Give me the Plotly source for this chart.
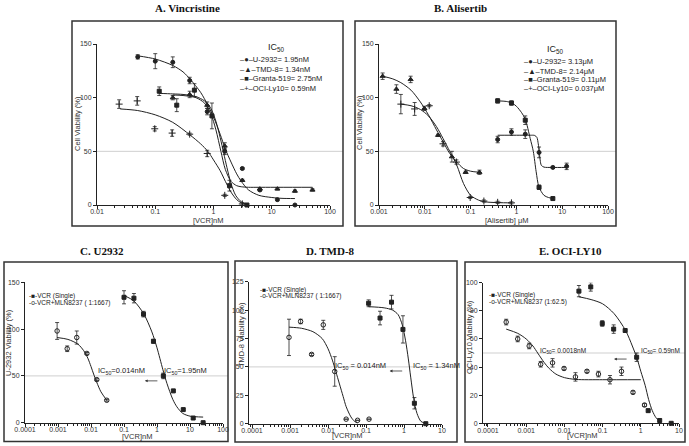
import math
import plotly.graph_objects as go

W, H = 689, 446
INK = "#222222"
TXT = "#333333"
FONT = "Liberation Sans, Arial, DejaVu Sans, sans-serif"

# ---------------- DATA ----------------
# Panel A (Vincristine)
a_u_x = [0.05, 0.1, 0.2, 0.39, 0.78, 1.56, 3.125, 6.25, 12.5, 25]
a_u_y = [138, 134, 133, 116, 87, 50, 34, 14, 5, 0]
a_u_e = [2, 7, 5, 3, 3, 3, 1, 1, 1, 0]
a_t_x = [0.2, 0.39, 0.78, 1.56, 3.125, 6.25, 12.5, 25, 50]
a_t_y = [100, 103, 93, 55, 23, 15, 15, 13, 14]
a_t_e = [2, 3, 3, 3, 1, 1, 1, 1, 1]
a_g_x = [0.117, 0.234, 0.47, 0.94, 1.88, 3.75]
a_g_y = [106, 93, 107, 83, 18, 0]
a_g_e = [4, 6, 6, 12, 5, 0]
a_o_x = [0.024, 0.049, 0.098, 0.195, 0.39, 0.78, 1.56, 3.125]
a_o_y = [94, 97, 71, 67, 66, 48, 9, 1]
a_o_e = [4, 4, 2, 3, 1, 3, 1, 1]
a_u_fx = [0.05, 0.1, 0.2, 0.3, 0.4, 0.6, 0.8, 1.0, 1.3, 1.6, 2.0, 2.5, 3.0, 4.0, 6.0, 10, 15, 25]
a_u_fy = [139, 136, 130, 124, 117, 105, 93, 82, 66, 52, 40, 29, 22, 14, 9, 7, 6.2, 6]
a_t_fx = [0.2, 0.3, 0.5, 0.7, 0.9, 1.1, 1.34, 1.6, 2.0, 2.5, 3.0, 4.0, 6, 50]
a_t_fy = [102.5, 102, 100, 95, 85, 70, 50, 33, 22, 18, 17, 16.5, 16.5, 16.5]
a_g_fx = [0.117, 0.2, 0.3, 0.5, 0.7, 0.9, 1.1, 1.3, 1.5, 1.7, 2.0, 2.4, 3.0, 3.75]
a_g_fy = [104, 103.5, 103, 101, 97, 90, 78, 63, 48, 35, 20, 9, 3, 1]
a_o_fx = [0.025, 0.05, 0.1, 0.2, 0.4, 0.6, 0.8, 1.0, 1.3, 1.6, 2.0, 2.5, 3.0, 3.7]
a_o_fy = [89.5, 88, 84, 77, 65, 57, 50, 42, 32, 22, 12, 5, 2, 0.5]
a_legend = ["U-2932= 1.95nM", "TMD-8= 1.34nM", "Granta-519= 2.75nM", "OCI-Ly10= 0.59nM"]

# Panel B (Alisertib)
b_u_x = [0.39, 0.78, 1.56, 3.125, 6.25, 12.5]
b_u_y = [61, 68, 66, 49, 35, 36]
b_u_e = [3, 3, 4, 5, 1, 3]
b_t_x = [0.39, 0.78, 1.56, 3.125, 6.25]
b_t_y = [97, 95, 79, 16.5, 6]
b_t_e = [2, 2, 4, 2, 1]
b_g_x = [0.0012, 0.0024, 0.0049, 0.0098, 0.0195, 0.039, 0.078, 0.156]
b_g_y = [120, 108, 117, 90, 65, 45, 30.5, 30.5]
b_g_e = [3, 4, 3, 2, 1, 5, 1, 2]
b_o_x = [0.003, 0.006, 0.0125, 0.025, 0.049, 0.098, 0.195, 0.39, 0.78]
b_o_y = [94, 89.5, 92.5, 57, 40, 7, 3.7, 2.5, 2]
b_o_e = [9, 6, 1, 2, 2, 1, 1, 1, 1]
b_u_fx = [0.39, 1.0, 2.0, 2.5, 2.8, 3.0, 3.15, 3.3, 3.5, 4.0, 6.0, 12.5]
b_u_fy = [65, 65, 65, 64.8, 63, 57, 50, 42, 37, 35.3, 35, 35]
b_t_fx = [0.39, 0.6, 0.8, 1.0, 1.3, 1.56, 2.0, 2.34, 2.7, 3.1, 4.0, 5.0, 6.25]
b_t_fy = [97, 96.5, 95, 92, 86, 80, 62, 50, 31, 17, 9, 7, 6]
b_g_fx = [0.0012, 0.002, 0.003, 0.005, 0.008, 0.012, 0.018, 0.025, 0.035, 0.05, 0.07, 0.1, 0.156]
b_g_fy = [120, 117.5, 114, 107, 96, 84, 70, 59, 48, 40, 34, 31.5, 30.5]
b_o_fx = [0.003, 0.005, 0.008, 0.012, 0.018, 0.025, 0.035, 0.05, 0.07, 0.1, 0.15, 0.2, 0.4, 0.8]
b_o_fy = [94, 92.5, 89, 83, 73, 62, 50, 37, 20, 9, 4.5, 3, 2.2, 2]
b_legend = ["U-2932= 3.13\u03bcM", "TMD-8= 2.14\u03bcM", "Granta-519= 0.11\u03bcM", "OCI-Ly10= 0.037\u03bcM"]

# Panel C (U2932)
c_s_x = [0.1, 0.2, 0.39, 0.78, 1.56, 3.125, 6.25, 12.5, 25]
c_s_y = [134, 133, 116, 87, 50, 34, 14, 5, 0]
c_s_e = [7, 5, 3, 2, 3, 1, 1, 1, 0]
c_c_x = [0.00094, 0.0019, 0.0037, 0.0075, 0.015, 0.03]
c_c_y = [98, 79, 91, 74, 46, 24]
c_c_e = [9, 3, 7, 1, 1, 1]
c_s_fx = [0.1, 0.2, 0.4, 0.7, 1.0, 1.5, 2.0, 3.0, 4.0, 6.0, 10, 25]
c_s_fy = [136, 130, 116, 97, 80, 57, 42, 25, 17, 10, 7, 6]
c_c_fx = [0.00094, 0.002, 0.004, 0.006, 0.008, 0.01, 0.012, 0.015, 0.02, 0.03]
c_c_fy = [91, 89, 84, 77, 69, 60, 52, 43, 33, 24]

# Panel D (TMD-8)
d_s_x = [0.117, 0.234, 0.469, 0.938, 1.875, 3.75]
d_s_y = [106, 93, 107, 83, 18, 0]
d_s_e = [3, 6, 6, 12, 5, 0]
d_c_x = [0.00094, 0.0019, 0.0037, 0.0075, 0.015, 0.03, 0.06, 0.12]
d_c_y = [76, 90, 61, 87, 46, 4, 3, 4]
d_c_e = [16, 2, 1, 4, 13, 0, 0, 0]
d_s_fx = [0.117, 0.3, 0.5, 0.7, 0.9, 1.1, 1.3, 1.5, 1.8, 2.2, 2.8, 3.75]
d_s_fy = [103, 102, 100, 96, 87, 73, 57, 41, 22, 9, 2, 0.3]
d_c_fx = [0.00094, 0.002, 0.004, 0.007, 0.01, 0.013, 0.016, 0.02, 0.025, 0.03, 0.04, 0.05, 0.06]
d_c_fy = [85, 84, 81, 75, 66, 56, 46, 35, 24, 15, 6, 2, 0.5]

# Panel E (OCI-LY10)
e_s_x = [0.024, 0.049, 0.098, 0.195, 0.39, 0.78, 1.56, 3.125, 6.25]
e_s_y = [94, 97, 71, 67, 66, 47, 9, 2, 0]
e_s_e = [4, 3, 2, 3, 1, 3, 1, 1, 0]
e_c_x = [0.0003, 0.0006, 0.0012, 0.0024, 0.0049, 0.0098, 0.0195, 0.039, 0.078, 0.156, 0.3125, 0.625, 1.25]
e_c_y = [72, 60, 55, 42, 43, 39, 33, 37, 35, 31, 37, 22, 13]
e_c_e = [2, 2, 2, 2, 3, 1, 3, 1, 2, 3, 3, 1, 1]
e_s_fx = [0.024, 0.05, 0.1, 0.2, 0.4, 0.6, 0.8, 1.0, 1.3, 1.6, 2.0, 2.5, 3.125]
e_s_fy = [90, 88, 85, 78, 66, 55, 46, 37, 27, 17, 9, 4, 1.5]
e_c_fx = [0.0003, 0.0006, 0.001, 0.0015, 0.002, 0.003, 0.004, 0.006, 0.01, 0.02, 0.1, 1.0]
e_c_fy = [67, 64, 60, 55, 50, 43, 39, 35, 32.5, 31.2, 31, 31]

combo_legend_c = ["VCR (Single)", "VCR+MLN8237 ( 1:1667)"]
combo_legend_e = ["VCR (Single)", "VCR+MLN8237 (1:62.5)"]

# tick labels
x_ticks_a = [0.01, 0.1, 1, 10, 100]
x_ticks_b = [0.001, 0.01, 0.1, 1, 10, 100]
x_ticks_c = [0.0001, 0.001, 0.01, 0.1, 1, 10, 100]
x_ticks_de = [0.0001, 0.001, 0.01, 0.1, 1, 10]
y_ticks_abc = [0, 50, 100, 150]
y_ticks_d = [0, 25, 50, 75, 100, 125]
y_ticks_e = [0, 20, 40, 60, 80, 100]


def lab(v):
    return ("%g" % v) if v >= 0.001 else "0.0001"


fig = go.Figure()


def px_x(p):
    return p / W


def px_y(p):
    return 1 - p / H


# axis geometry in pixels; titles placed at pixel spots
panels = {
    "": dict(xd=(97, 330), xr=(-2, 2), yd=(44, 205), yr=(0, 150), xt=x_ticks_a, yt=y_ticks_abc,
             xtitle="[VCR]nM", ytitle="Cell Viability (%)", xtp=(208, 220), ytp=(77, 124)),
    "2": dict(xd=(379, 608), xr=(-3, 2), yd=(44, 205), yr=(0, 150), xt=x_ticks_b, yt=y_ticks_abc,
              xtitle="[Alisertib] \u03bcM", ytitle="Cell Viability (%)", xtp=(507, 220), ytp=(359, 123)),
    "3": dict(xd=(25, 223), xr=(-4, 2), yd=(282.3, 422.7), yr=(0, 150), xt=x_ticks_c, yt=y_ticks_abc,
              xtitle="[VCR]nM", ytitle="U-2932 Viability (%)", xtp=(137, 436), ytp=(8, 343)),
    "4": dict(xd=(249, 442), xr=(-4.08, 1), yd=(281.7, 423.7), yr=(0, 125), xt=x_ticks_de, yt=y_ticks_d,
              xtitle="[VCR]nM", ytitle="TMD-8 Viability (%)", xtp=(347, 435.5), ytp=(241, 335)),
    "5": dict(xd=(483, 679), xr=(-4.13, 1), yd=(282.7, 423.3), yr=(0, 100), xt=x_ticks_de, yt=y_ticks_e,
              xtitle="[VCR]nM", ytitle="OCI-Ly10 Viability (%)", xtp=(582, 435.5), ytp=(469, 337)),
}

ann = []
layout_axes = {}
for k, p in panels.items():
    layout_axes["xaxis" + k] = dict(
        type="log", range=list(p["xr"]), domain=[px_x(p["xd"][0]), px_x(p["xd"][1])],
        anchor="y" + k, showgrid=False, zeroline=False, showline=True, linecolor=INK, linewidth=1,
        ticks="outside", ticklen=3, tickwidth=1, tickcolor=INK, automargin=False, ticklabelstandoff=-3,
        tickvals=p["xt"], ticktext=[lab(v) for v in p["xt"]],
        tickfont=dict(size=7, color=TXT, family=FONT),
        minor=dict(ticks="outside", ticklen=2, tickwidth=0.8, tickcolor=INK, dtick="D1", showgrid=False),
    )
    layout_axes["yaxis" + k] = dict(
        range=list(p["yr"]), domain=[px_y(p["yd"][1]), px_y(p["yd"][0])],
        anchor="x" + k, showgrid=False, zeroline=False, showline=True, linecolor=INK, linewidth=1,
        ticks="outside", ticklen=3, tickwidth=1, tickcolor=INK, tickvals=p["yt"], automargin=False,
        tickfont=dict(size=7, color=TXT, family=FONT),
    )
    ann.append(dict(text=p["xtitle"], x=px_x(p["xtp"][0]), y=px_y(p["xtp"][1]), xref="paper", yref="paper",
                    showarrow=False, xanchor="center", yanchor="middle",
                    font=dict(size=7.5, color=TXT, family=FONT)))
    ann.append(dict(text=p["ytitle"], x=px_x(p["ytp"][0]), y=px_y(p["ytp"][1]), xref="paper", yref="paper",
                    showarrow=False, xanchor="center", yanchor="middle", textangle=-90,
                    font=dict(size=7.5, color=TXT, family=FONT)))


def add_points(k, x, y, e, symbol, size=4):
    mk = dict(symbol=symbol, size=size, color=INK, line=dict(width=1, color=INK))
    fig.add_trace(go.Scatter(
        x=x, y=y, mode="markers", xaxis="x" + k, yaxis="y" + k, marker=mk, showlegend=False,
        error_y=dict(type="data", array=e, thickness=0.8, width=2, color=INK), cliponaxis=False))


def add_curve(k, x, y):
    fig.add_trace(go.Scatter(x=x, y=y, mode="lines", xaxis="x" + k, yaxis="y" + k,
                             line=dict(color=INK, width=1, shape="spline", smoothing=0.8),
                             showlegend=False, hoverinfo="skip"))


# Panel A
add_curve("", a_u_fx, a_u_fy); add_curve("", a_t_fx, a_t_fy)
add_curve("", a_g_fx, a_g_fy); add_curve("", a_o_fx, a_o_fy)
add_points("", a_u_x, a_u_y, a_u_e, "circle")
add_points("", a_t_x, a_t_y, a_t_e, "triangle-up", 4.5)
add_points("", a_g_x, a_g_y, a_g_e, "square")
add_points("", a_o_x, a_o_y, a_o_e, "cross-thin", 5)
# Panel B
add_curve("2", b_u_fx, b_u_fy); add_curve("2", b_t_fx, b_t_fy)
add_curve("2", b_g_fx, b_g_fy); add_curve("2", b_o_fx, b_o_fy)
add_points("2", b_u_x, b_u_y, b_u_e, "circle")
add_points("2", b_t_x, b_t_y, b_t_e, "square")
add_points("2", b_g_x, b_g_y, b_g_e, "triangle-up", 4.5)
add_points("2", b_o_x, b_o_y, b_o_e, "cross-thin", 5)
# Panel C
add_curve("3", c_s_fx, c_s_fy); add_curve("3", c_c_fx, c_c_fy)
add_points("3", c_s_x, c_s_y, c_s_e, "square")
add_points("3", c_c_x, c_c_y, c_c_e, "circle-open", 4.5)
# Panel D
add_curve("4", d_s_fx, d_s_fy); add_curve("4", d_c_fx, d_c_fy)
add_points("4", d_s_x, d_s_y, d_s_e, "square")
add_points("4", d_c_x, d_c_y, d_c_e, "circle-open", 4.5)
# Panel E
add_curve("5", e_s_fx, e_s_fy); add_curve("5", e_c_fx, e_c_fy)
add_points("5", e_s_x, e_s_y, e_s_e, "square")
add_points("5", e_c_x, e_c_y, e_c_e, "circle-open", 4.5)

shapes = []
# frames
for (x0, y0, x1, y1) in [(72, 21, 343, 226), (355, 21, 616, 226), (4, 262, 228, 441.5),
                         (235, 261, 457, 442), (465, 262, 685, 442)]:
    shapes.append(dict(type="rect", xref="paper", yref="paper", x0=px_x(x0), x1=px_x(x1),
                       y0=px_y(y1), y1=px_y(y0), line=dict(color="#333", width=1.5)))
# 50% reference lines
for k, xr_end in [("", 343), ("2", 616), ("3", 228), ("4", 457), ("5", 685)]:
    p = panels[k]
    shapes.append(dict(type="line", xref="paper", yref="y" + k, x0=px_x(p["xd"][0]), x1=px_x(xr_end),
                       y0=50, y1=50, line=dict(color="#cfcfcf", width=1), layer="below"))

# panel titles
for txt, cx, cy in [("A. Vincristine", 187, 8), ("B. Alisertib", 460, 8), ("C. U2932", 102, 251),
                    ("D. TMD-8", 330, 251), ("E. OCI-LY10", 570, 251)]:
    ann.append(dict(text="<b>%s</b>" % txt, x=px_x(cx), y=px_y(cy), xref="paper", yref="paper",
                    showarrow=False, xanchor="center", yanchor="middle",
                    font=dict(family="Liberation Serif, Times New Roman, serif", size=11, color="#111")))

# IC50 legends for A and B
syms = ["\u25cf", "\u25b2", "\u25a0", "+"]
for labels, tx, ty, lx, rows in [(a_legend, 276.7, 48, 238, [60, 69.5, 79, 88.5]),
                                 (b_legend, 555, 50, 521.7, [61.5, 71, 80, 88.5])]:
    ann.append(dict(text="IC<sub>50</sub>", x=px_x(tx), y=px_y(ty), xref="paper", yref="paper",
                    showarrow=False, xanchor="center", yanchor="middle",
                    font=dict(family=FONT, size=9, color="#222")))
    for s, t, r in zip(syms, labels, rows):
        ann.append(dict(text="\u2013%s\u2013%s" % (s, t), x=px_x(lx), y=px_y(r), xref="paper", yref="paper",
                        showarrow=False, xanchor="left", yanchor="middle",
                        font=dict(family=FONT, size=7.5, color="#222")))

# combo legends
for labels, lx, rows in [(combo_legend_c, 26.5, [296, 302.5]), (combo_legend_c, 258, [289.5, 295.5]),
                         (combo_legend_e, 486.5, [295, 301.5])]:
    for s, t, r in zip(["\u25a0", "o"], labels, rows):
        ann.append(dict(text="-%s-%s" % (s, t), x=px_x(lx), y=px_y(r), xref="paper", yref="paper",
                        showarrow=False, xanchor="left", yanchor="middle",
                        font=dict(family=FONT, size=6.5, color="#222")))

# IC50 labels inside panels
for k, x, y, t, fs in [("3", 0.014, 55.4, "IC<sub>50</sub>=0.014nM", 7.5),
                       ("3", 1.39, 55.4, "IC<sub>50</sub>=1.95nM", 7.5),
                       ("4", 0.0139, 50.8, "IC<sub>50</sub> = 0.014nM", 7.5),
                       ("4", 1.51, 50.8, "IC<sub>50</sub> = 1.34nM", 7.5),
                       ("5", 0.00204, 51.6, "IC<sub>50</sub>= 0.0018nM", 6.5),
                       ("5", 0.9, 51.6, "IC<sub>50</sub>= 0.59nM", 6.5)]:
    ann.append(dict(text=t, x=math.log10(x), y=y, xref="x" + k, yref="y" + k, showarrow=False,
                    xanchor="left", yanchor="middle", font=dict(family=FONT, size=fs, color="#222")))

# arrows
for k, x, y in [("3", 0.43, 44.7), ("4", 0.42, 46.4), ("5", 0.2, 45.7)]:
    ann.append(dict(x=math.log10(x), y=y, xref="x" + k, yref="y" + k, ax=14, ay=0, text="",
                    showarrow=True, arrowhead=2, arrowsize=0.7, arrowwidth=0.8, arrowcolor="#333"))

fig.update_layout(
    width=W, height=H, margin=dict(l=0, r=0, t=0, b=0, autoexpand=False),
    paper_bgcolor="white", plot_bgcolor="white",
    shapes=shapes, annotations=ann, showlegend=False, font=dict(family=FONT, color="#222"),
    **layout_axes)

fig.write_html("out.html", config={"displayModeBar": False},
               post_script="document.body.style.margin='0';document.body.style.overflow='hidden';")
